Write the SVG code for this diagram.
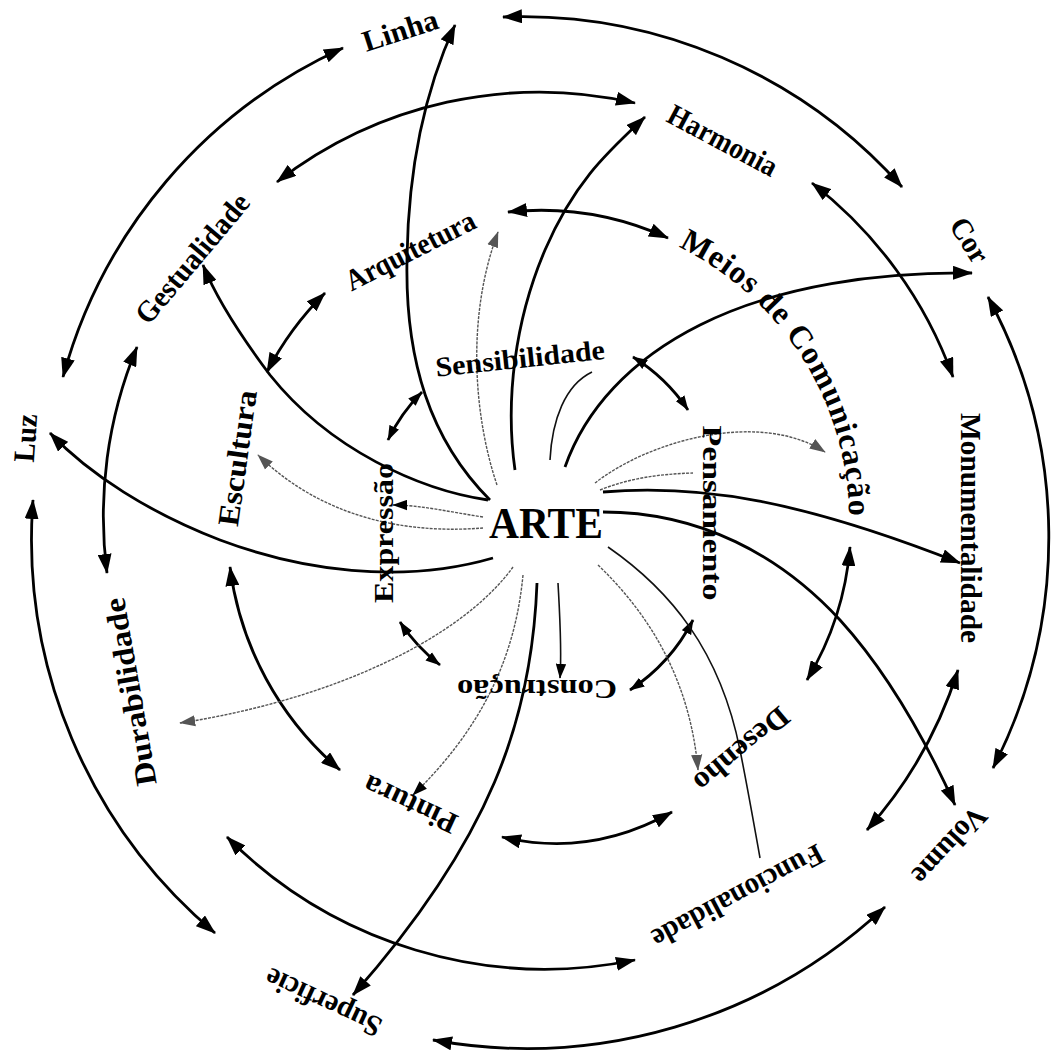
<svg xmlns="http://www.w3.org/2000/svg" width="1055" height="1055" viewBox="0 0 1055 1055">
<style>
.lbl{font-family:"Liberation Serif","Times New Roman",serif;font-weight:bold;fill:#000}
.o{font-size:30px}
.m{font-size:30px}
.i{font-size:28px}
.thick{fill:none;stroke:#000;stroke-width:2.8}
.thin{fill:none;stroke:#111;stroke-width:1.6}
.faint{fill:none;stroke:#555;stroke-width:1.4;stroke-dasharray:3 1.2}
</style>
<defs>
<marker id="ah" viewBox="0 0 20 14" refX="19" refY="7" markerWidth="20" markerHeight="14" markerUnits="userSpaceOnUse" orient="auto-start-reverse"><path d="M0,0 L20,7 L0,14 z" fill="#000"/></marker>
<marker id="ahs" viewBox="0 0 20 14" refX="19" refY="7" markerWidth="15" markerHeight="11" markerUnits="userSpaceOnUse" orient="auto-start-reverse"><path d="M0,0 L20,7 L0,14 z" fill="#000"/></marker>
<marker id="ahg" viewBox="0 0 20 14" refX="19" refY="7" markerWidth="16" markerHeight="12" markerUnits="userSpaceOnUse" orient="auto-start-reverse"><path d="M0,0 L20,7 L0,14 z" fill="#555"/></marker>
<path id="pMeios" d="M678.3,246.8 A304,304 0 0 1 844.4,572.8"/>
</defs>
<rect width="1055" height="1055" fill="#fff"/>
<g id="connectors">
<path class="thick" d="M63,377 A508,508 0 0 1 343,48" marker-start="url(#ah)" marker-end="url(#ah)"/>
<path class="thick" d="M503,17 A508,508 0 0 1 902,187" marker-start="url(#ah)" marker-end="url(#ah)"/>
<path class="thick" d="M988,297 A505,505 0 0 1 993,768" marker-start="url(#ah)" marker-end="url(#ah)"/>
<path class="thick" d="M885,907 A525,525 0 0 1 433,1040" marker-start="url(#ah)" marker-end="url(#ah)"/>
<path class="thick" d="M215,933 A515,515 0 0 1 33,500" marker-start="url(#ah)" marker-end="url(#ah)"/>
<path class="thick" d="M277,182 A428,428 0 0 1 635,103" marker-start="url(#ah)" marker-end="url(#ah)"/>
<path class="thick" d="M812,183 A430,430 0 0 1 953,377" marker-start="url(#ah)" marker-end="url(#ah)"/>
<path class="thick" d="M958,670 A440,440 0 0 1 867,830" marker-start="url(#ah)" marker-end="url(#ah)"/>
<path class="thick" d="M635,960 A449,449 0 0 1 227,837" marker-start="url(#ah)" marker-end="url(#ah)"/>
<path class="thick" d="M107,573 A442,442 0 0 1 137,347" marker-start="url(#ah)" marker-end="url(#ah)"/>
<path class="thick" d="M508,212 A309,309 0 0 1 668,238" marker-start="url(#ah)" marker-end="url(#ah)"/>
<path class="thick" d="M850,547 A306,306 0 0 1 807,680" marker-start="url(#ah)" marker-end="url(#ah)"/>
<path class="thick" d="M672,812 Q590,858 502,837" marker-start="url(#ah)" marker-end="url(#ah)"/>
<path class="thick" d="M340,770 A320,320 0 0 1 230,567" marker-start="url(#ah)" marker-end="url(#ah)"/>
<path class="thick" d="M267,372 A315,315 0 0 1 325,293" marker-start="url(#ah)" marker-end="url(#ah)"/>
<path class="thick" d="M388,440 A176,176 0 0 1 422,392" marker-start="url(#ahs)" marker-end="url(#ahs)"/>
<path class="thick" d="M633,357 A182,182 0 0 1 688,410" marker-start="url(#ahs)" marker-end="url(#ahs)"/>
<path class="thick" d="M693,620 A185,185 0 0 1 630,690" marker-start="url(#ahs)" marker-end="url(#ahs)"/>
<path class="thick" d="M440,665 A178,178 0 0 1 400,622" marker-start="url(#ahs)" marker-end="url(#ahs)"/>
<path class="thick" d="M490,500 C430,440 405,360 407,260 C408,170 425,90 455,25" marker-end="url(#ah)"/>
<path class="thick" d="M515,470 C505,400 515,320 545,250 C575,180 610,150 645,117" marker-end="url(#ah)"/>
<path class="faint" d="M497,485 C475,420 465,320 498,232" marker-end="url(#ahg)"/>
<path class="thin" d="M550,460 C552,420 565,385 592,372"/>
<path class="thick" d="M565,467 C585,410 630,360 700,325 C780,285 880,272 972,273" marker-end="url(#ah)"/>
<path class="faint" d="M595,483 C650,440 760,410 825,452" marker-end="url(#ahg)"/>
<path class="faint" d="M600,490 C630,478 660,474 693,473"/>
<path class="thick" d="M603,492 C700,484 800,500 960,563" marker-end="url(#ah)"/>
<path class="thick" d="M603,512 C700,512 780,555 840,620 C890,675 930,750 955,805" marker-end="url(#ah)"/>
<path class="thin" d="M608,547 C670,590 720,650 740,750 C748,790 755,830 760,858"/>
<path class="faint" d="M598,565 C650,615 690,680 698,770" marker-end="url(#ahg)"/>
<path class="thin" d="M558,583 C560,620 562,650 560,678" marker-end="url(#ahs)"/>
<path class="thick" d="M537,583 C532,720 490,840 353,995" marker-end="url(#ah)"/>
<path class="faint" d="M523,575 C515,660 480,730 413,795" marker-end="url(#ahs)"/>
<path class="faint" d="M513,567 C460,640 330,700 180,723" marker-end="url(#ahg)"/>
<path class="thick" d="M493,558 C400,585 300,570 220,540 C150,513 90,475 50,433" marker-end="url(#ah)"/>
<path class="faint" d="M483,517 C450,512 420,505 393,505" marker-end="url(#ahs)"/>
<path class="faint" d="M483,528 C420,533 330,525 258,455" marker-end="url(#ahg)"/>
<path class="thick" d="M488,500 C420,490 330,450 270,375 C240,335 215,295 203,265" marker-end="url(#ah)"/>
</g>
<g id="n-arte"><text class="lbl" x="546" y="538" font-size="44" text-anchor="middle" textLength="114" lengthAdjust="spacingAndGlyphs">ARTE</text></g>
<g id="n-linha"><text class="lbl o" transform="translate(400,30) rotate(-18)" text-anchor="middle" dy="0.35em" textLength="78" lengthAdjust="spacingAndGlyphs">Linha</text></g>
<g id="n-harmonia"><text class="lbl o" transform="translate(723,140) rotate(28)" text-anchor="middle" dy="0.35em" textLength="120" lengthAdjust="spacingAndGlyphs">Harmonia</text></g>
<g id="n-cor"><text class="lbl o" transform="translate(970,240) rotate(58)" text-anchor="middle" dy="0.35em" textLength="48" lengthAdjust="spacingAndGlyphs">Cor</text></g>
<g id="n-monumentalidade"><text class="lbl o" transform="translate(971,528) rotate(90)" text-anchor="middle" dy="0.35em" textLength="230" lengthAdjust="spacingAndGlyphs">Monumentalidade</text></g>
<g id="n-volume"><text class="lbl o" transform="translate(950,846) rotate(133)" text-anchor="middle" dy="0.35em" textLength="95" lengthAdjust="spacingAndGlyphs">Volume</text></g>
<g id="n-funcionalidade"><text class="lbl o" transform="translate(738,897) rotate(152)" text-anchor="middle" dy="0.35em" textLength="190" lengthAdjust="spacingAndGlyphs">Funcionalidade</text></g>
<g id="n-superficie"><text class="lbl o" transform="translate(323,1003) rotate(205)" text-anchor="middle" dy="0.35em" textLength="125" lengthAdjust="spacingAndGlyphs">Superficie</text></g>
<g id="n-durabilidade"><text class="lbl o" transform="translate(130,692) rotate(-100)" text-anchor="middle" dy="0.35em" textLength="190" lengthAdjust="spacingAndGlyphs">Durabilidade</text></g>
<g id="n-luz"><text class="lbl o" transform="translate(25,438) rotate(-86)" text-anchor="middle" dy="0.35em" textLength="48" lengthAdjust="spacingAndGlyphs">Luz</text></g>
<g id="n-gestualidade"><text class="lbl o" transform="translate(192,258) rotate(-50)" text-anchor="middle" dy="0.35em" textLength="160" lengthAdjust="spacingAndGlyphs">Gestualidade</text></g>
<g id="n-arquitetura"><text class="lbl m" transform="translate(410,250) rotate(-27)" text-anchor="middle" dy="0.35em" textLength="142" lengthAdjust="spacingAndGlyphs">Arquitetura</text></g>
<g id="n-meios"><text class="lbl" font-size="32" letter-spacing="1"><textPath href="#pMeios">Meios de Comunicação</textPath></text></g>
<g id="n-desenho"><text class="lbl m" transform="translate(742,750) rotate(140)" text-anchor="middle" dy="0.35em" textLength="115" lengthAdjust="spacingAndGlyphs">Desenho</text></g>
<g id="n-pintura"><text class="lbl m" transform="translate(410,805) rotate(205)" text-anchor="middle" dy="0.35em" textLength="100" lengthAdjust="spacingAndGlyphs">Pintura</text></g>
<g id="n-escultura"><text class="lbl m" transform="translate(237,458) rotate(-82)" text-anchor="middle" dy="0.35em" textLength="137" lengthAdjust="spacingAndGlyphs">Escultura</text></g>
<g id="n-sensibilidade"><text class="lbl i" transform="translate(520,358) rotate(-6)" text-anchor="middle" dy="0.35em" textLength="170" lengthAdjust="spacingAndGlyphs">Sensibilidade</text></g>
<g id="n-pensamento"><text class="lbl i" transform="translate(713,513) rotate(90)" text-anchor="middle" dy="0.35em" textLength="175" lengthAdjust="spacingAndGlyphs">Pensamento</text></g>
<g id="n-construcao"><text class="lbl i" transform="translate(537,690) rotate(180)" text-anchor="middle" dy="0.35em" textLength="160" lengthAdjust="spacingAndGlyphs">Construção</text></g>
<g id="n-expressao"><text class="lbl i" transform="translate(383,533) rotate(-90)" text-anchor="middle" dy="0.35em" textLength="140" lengthAdjust="spacingAndGlyphs">Expressão</text></g>
</svg>
